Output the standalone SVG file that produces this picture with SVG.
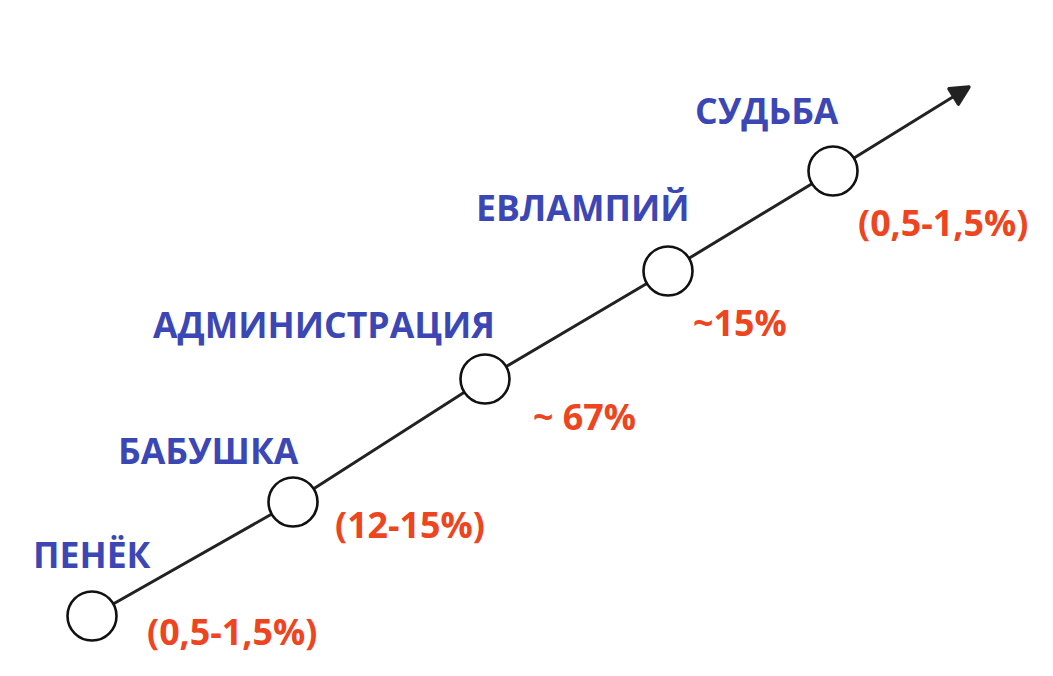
<svg xmlns="http://www.w3.org/2000/svg" width="1053" height="676" viewBox="0 0 1053 676">
<style>
.lbl{font-family:"Open Sans","Noto Sans","Liberation Sans",sans-serif;font-weight:700;font-size:35.6px;fill:#3a47b4}
.val{font-family:"Open Sans","Noto Sans","Liberation Sans",sans-serif;font-weight:700;font-size:35.8px;fill:#ee4420}
.node circle{fill:#fff;stroke:#111;stroke-width:2.6}
</style>
<defs>
<marker id="arr" viewBox="0 0 10 10" refX="9" refY="5" markerWidth="7.5" markerHeight="7.5" markerUnits="strokeWidth" orient="auto">
<path d="M1,1 L9,5 L1,9 Z" fill="#222" stroke="#222" stroke-width="1.5" stroke-linejoin="round"/>
</marker>
</defs>
<rect width="1053" height="676" fill="#fff"/>
<g id="connectors">
<polyline points="92,616 293,502 485,379 668,271 833,171 969,87" fill="none" stroke="#222" stroke-width="3" marker-end="url(#arr)"/>
</g>
<g id="penek" class="node"><circle cx="92" cy="616" r="24.5"/><text class="lbl" x="33" y="568">ПЕНЁК</text><text class="val" x="147" y="645">(0,5-1,5%)</text></g>
<g id="babushka" class="node"><circle cx="293" cy="502" r="24.5"/><text class="lbl" x="118" y="464">БАБУШКА</text><text class="val" x="335" y="538">(12-15%)</text></g>
<g id="administratsiya" class="node"><circle cx="485" cy="379" r="24.5"/><text class="lbl" x="153" y="338">АДМИНИСТРАЦИЯ</text><text class="val" x="533" y="430">~ 67%</text></g>
<g id="evlampiy" class="node"><circle cx="668" cy="271" r="24.5"/><text class="lbl" x="476" y="221">ЕВЛАМПИЙ</text><text class="val" x="693" y="336">~15%</text></g>
<g id="sudba" class="node"><circle cx="833" cy="171" r="24.5"/><text class="lbl" x="695" y="124">СУДЬБА</text><text class="val" x="858" y="236">(0,5-1,5%)</text></g>
</svg>
